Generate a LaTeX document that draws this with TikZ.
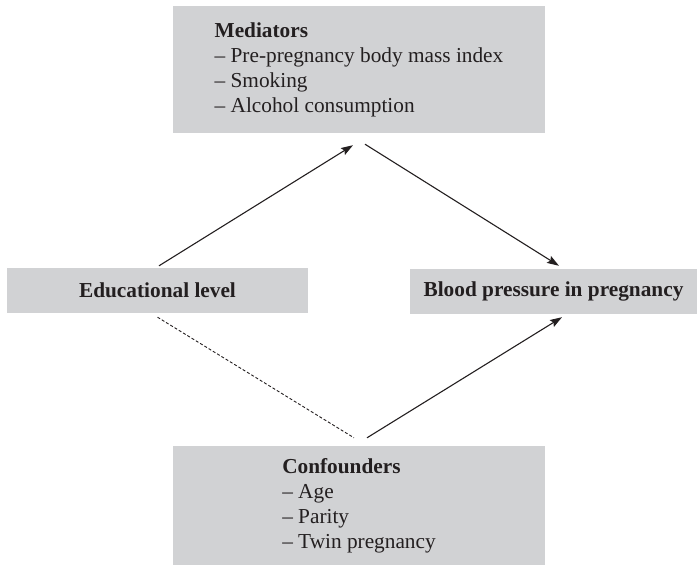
\documentclass[tikz,border=0pt]{standalone}
\usepackage{fontspec}
\setmainfont{Liberation Serif}
\usetikzlibrary{arrows.meta}
\definecolor{boxgray}{RGB}{209,210,212}
\definecolor{ink}{RGB}{35,31,32}
\begin{document}
\begin{tikzpicture}[x=1pt,y=-1pt,
  box/.style={fill=boxgray, inner sep=0pt, text=ink,
    font=\fontsize{21.3}{25}\selectfont},
  link/.style={draw=ink, line width=1.1pt,
    -{Stealth[length=12pt,width=8pt,inset=2pt]}},
  dotlink/.style={draw=ink, line width=0.9pt, dash pattern=on 3pt off 2pt}]
\useasboundingbox (0,0) rectangle (699,565);

% boxes
\node[box, minimum width=372pt, minimum height=127pt, align=left] (med) at (359,69.5)
  {\textbf{Mediators}\\– Pre-pregnancy body mass index\\– Smoking\\– Alcohol consumption};
\node[box, minimum width=301pt, minimum height=45pt] (edu) at (157.5,290.5)
  {\textbf{Educational level}};
\node[box, minimum width=287pt, minimum height=45pt] (bp) at (553.5,291.5)
  {\textbf{Blood pressure in pregnancy}};
\node[box, minimum width=372pt, minimum height=119pt, align=left] (conf) at (359,505.5)
  {\textbf{Confounders}\\– Age\\– Parity\\– Twin pregnancy};

% connectors
\draw[link] ([xshift=1.5pt,yshift=2pt]edu.north) -- ([xshift=-6pt,yshift=-12pt]med.south);
\draw[link] ([xshift=6pt,yshift=-11pt]med.south) -- ([xshift=5.5pt,yshift=3pt]bp.north);
\draw[link] ([xshift=8pt,yshift=8pt]conf.north) -- ([xshift=8.5pt,yshift=-3pt]bp.south);
\draw[dotlink] ([yshift=-4pt]edu.south) -- ([xshift=-5pt,yshift=8pt]conf.north);
\end{tikzpicture}
\end{document}
